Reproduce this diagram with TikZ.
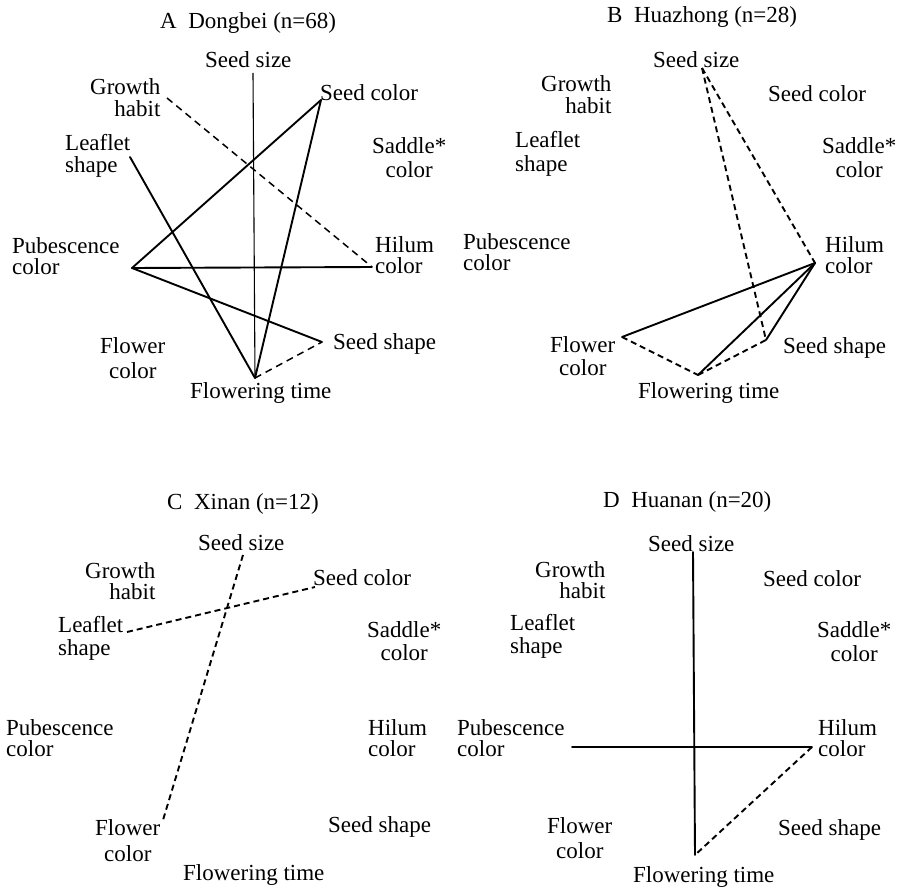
\documentclass[tikz,border=0pt]{standalone}
\usepackage{fontspec}
\setmainfont{Liberation Serif}
\newcommand\labL[3]{\vtop{\baselineskip=#3pt\lineskiplimit=-50pt\lineskip=0pt\relax\halign{##\hfil\cr#1\cr#2\cr}}}
\newcommand\labC[3]{\vtop{\baselineskip=#3pt\lineskiplimit=-50pt\lineskip=0pt\relax\halign{\hfil##\hfil\cr#1\cr#2\cr}}}
\newcommand\labR[3]{\vtop{\baselineskip=#3pt\lineskiplimit=-50pt\lineskip=0pt\relax\halign{\hfil##\cr#1\cr#2\cr}}}
\tikzset{
  lab/.style={inner sep=0pt, anchor=base west, font=\fontsize{23}{21}\selectfont},
  sol/.style={line width=1.9pt, line cap=round},
  thinsol/.style={line width=1.1pt},
  dsh/.style={line width=1.9pt, dash pattern=on 6pt off 4pt},
  dshthin/.style={line width=1.5pt, dash pattern=on 7pt off 5pt},
}
\begin{document}
\begin{tikzpicture}[x=1pt,y=-1pt]
\useasboundingbox (0,0) rectangle (897,891);
% ---------------- Panel A ----------------
\node[lab] (A-t)  at (160,29) {A\enspace Dongbei (n=68)};
\node[lab] (A-ss) at (205,67) {Seed size};
\node[lab] (A-gh) at (90,95) {\labR{Growth}{habit}{21}};
\node[lab] (A-sc) at (320,100) {Seed color};
\node[lab] (A-ls) at (65,150) {\labL{Leaflet}{shape}{22}};
\node[lab] (A-sd) at (372,153) {\labC{Saddle*}{color}{24}};
\node[lab] (A-pc) at (12,253) {\labL{Pubescence}{color}{21}};
\node[lab] (A-hc) at (375,252) {\labL{Hilum}{color}{21}};
\node[lab] (A-fc) at (100,353) {\labC{Flower}{color}{25}};
\node[lab] (A-sh) at (333,349) {Seed shape};
\node[lab] (A-ft) at (190,398) {Flowering time};
\coordinate (a-ss) at (253,73);
\coordinate (a-ft) at (255,378);
\coordinate (a-gh) at (167,98);
\coordinate (a-hc) at (372,267);
\coordinate (a-sc) at (321,100);
\coordinate (a-ls) at (130,157);
\coordinate (a-pc) at (132,268);
\coordinate (a-sh) at (322,342);
\draw[thinsol] (a-ss) -- (a-ft);
\draw[dshthin] (a-gh) -- (a-hc);
\draw[sol] (a-sc) -- (a-pc);
\draw[sol] (a-sc) -- (a-ft);
\draw[sol] (a-ls) -- (a-ft);
\draw[sol] (a-pc) -- (a-hc);
\draw[sol] (a-pc) -- (a-sh);
\draw[dshthin] (a-ft) -- (a-sh);
% ---------------- Panel B ----------------
\node[lab] (B-t)  at (607,23) {B\enspace Huazhong (n=28)};
\node[lab] (B-ss) at (653,67) {Seed size};
\node[lab] (B-gh) at (541,92) {\labR{Growth}{habit}{21}};
\node[lab] (B-sc) at (768,102) {Seed color};
\node[lab] (B-ls) at (515,147) {\labL{Leaflet}{shape}{24}};
\node[lab] (B-sd) at (822,153) {\labC{Saddle*}{color}{24}};
\node[lab] (B-pc) at (463,249) {\labL{Pubescence}{color}{21}};
\node[lab] (B-hc) at (825,252) {\labL{Hilum}{color}{21}};
\node[lab] (B-fc) at (550,352) {\labC{Flower}{color}{23}};
\node[lab] (B-sh) at (783,353) {Seed shape};
\node[lab] (B-ft) at (638,398) {Flowering time};
\coordinate (b-ss) at (702,68);
\coordinate (b-hc) at (815,263);
\coordinate (b-sh) at (766,340);
\coordinate (b-fc) at (622,337);
\coordinate (b-ft) at (698,375);
\draw[dsh] (b-ss) -- (b-hc);
\draw[dsh] (b-ss) -- (b-sh);
\draw[sol] (b-hc) -- (b-fc);
\draw[sol] (b-hc) -- (b-ft);
\draw[sol] (b-hc) -- (b-sh);
\draw[dsh] (b-fc) -- (b-ft);
\draw[dsh] (b-ft) -- (b-sh);
% ---------------- Panel C ----------------
\node[lab] (C-t)  at (167,509) {C\enspace Xinan (n=12)};
\node[lab] (C-ss) at (198,550) {Seed size};
\node[lab] (C-gh) at (85,578) {\labR{Growth}{habit}{21}};
\node[lab] (C-sc) at (313,585) {Seed color};
\node[lab] (C-ls) at (58,632) {\labL{Leaflet}{shape}{23}};
\node[lab] (C-sd) at (367,637) {\labC{Saddle*}{color}{23}};
\node[lab] (C-pc) at (6,735) {\labL{Pubescence}{color}{21}};
\node[lab] (C-hc) at (368,735) {\labL{Hilum}{color}{21}};
\node[lab] (C-fc) at (95,835) {\labC{Flower}{color}{26}};
\node[lab] (C-sh) at (328,832) {Seed shape};
\node[lab] (C-ft) at (183,880) {Flowering time};
\coordinate (c-ss) at (243,555);
\coordinate (c-fc) at (163,820);
\coordinate (c-ls) at (127,632);
\coordinate (c-sc) at (315,587);
\draw[dsh] (c-ss) -- (c-fc);
\draw[dsh] (c-ls) -- (c-sc);
% ---------------- Panel D ----------------
\node[lab] (D-t)  at (603,507) {D\enspace Huanan (n=20)};
\node[lab] (D-ss) at (648,551) {Seed size};
\node[lab] (D-gh) at (535,577) {\labR{Growth}{habit}{21}};
\node[lab] (D-sc) at (763,586) {Seed color};
\node[lab] (D-ls) at (510,630) {\labL{Leaflet}{shape}{23}};
\node[lab] (D-sd) at (817,637) {\labC{Saddle*}{color}{24}};
\node[lab] (D-pc) at (457,735) {\labL{Pubescence}{color}{21}};
\node[lab] (D-hc) at (818,735) {\labL{Hilum}{color}{21}};
\node[lab] (D-fc) at (547,833) {\labC{Flower}{color}{25}};
\node[lab] (D-sh) at (778,835) {Seed shape};
\node[lab] (D-ft) at (633,882) {Flowering time};
\coordinate (d-ss) at (693,552);
\coordinate (d-ft) at (695,855);
\coordinate (d-pc) at (572,747);
\coordinate (d-hc) at (812,747);
\draw[sol] (d-ss) -- (d-ft);
\draw[sol] (d-pc) -- (d-hc);
\draw[dsh] (d-hc) -- (d-ft);
\end{tikzpicture}
\end{document}
